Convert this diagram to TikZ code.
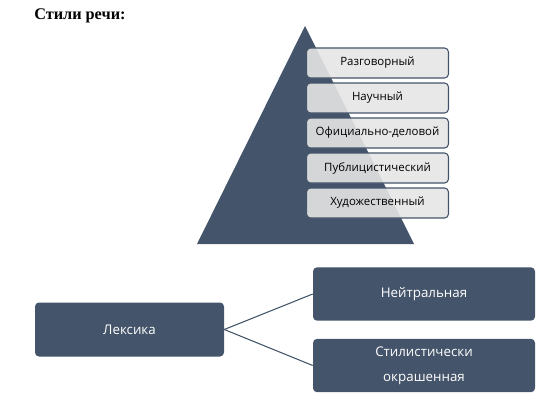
\documentclass[tikz,border=0pt]{standalone}
\usepackage{fontspec}
\setmainfont{Liberation Serif}
\newfontfamily\boxfont{Open Sans}
\definecolor{slate}{HTML}{44546A}
\definecolor{lightbox}{HTML}{E5E5E5}
\begin{document}
\begin{tikzpicture}[x=0.75pt,y=-0.75pt,
  layer/.style={draw=slate, line width=0.8pt, fill=lightbox, fill opacity=0.9, text opacity=1,
    rounded corners=3pt, minimum width=106.5pt, minimum height=22.5pt, inner sep=0pt,
    font=\boxfont\fontsize{8.6pt}{10pt}\selectfont, text=black},
  darkbox/.style={fill=slate, draw=none, rounded corners=3pt, inner sep=0pt,
    font=\boxfont\fontsize{10pt}{18.5pt}\selectfont, text=white, align=center},
  link/.style={draw=slate, line width=0.8pt}]
\useasboundingbox (0,0) rectangle (548,403);
\node[font=\bfseries\fontsize{12.2pt}{14pt}\selectfont, anchor=base west, inner sep=0pt] (title) at (34,20) {Стили речи:};
\fill[slate] (305,26) -- (414,244) -- (197,244) -- cycle;
\node[layer] (l1) at (377.5,63) {Разговорный};
\node[layer] (l2) at (377.5,98) {Научный};
\node[layer] (l3) at (377.5,133) {Официально-деловой};
\node[layer] (l4) at (377.5,168) {Публицистический};
\node[layer] (l5) at (377.5,203) {Художественный};
\node[darkbox, minimum width=141.75pt, minimum height=40.5pt] (lex) at (129.5,329.5) {Лексика};
\node[darkbox, minimum width=166.5pt, minimum height=40pt] (neu) at (424,294) {Нейтральная};
\node[darkbox, minimum width=166.5pt, minimum height=40pt] (sty) at (424,365.5) {Стилистически\\окрашенная};
\draw[link] (lex.east) -- (neu.west);
\draw[link] (lex.east) -- (sty.west);
\end{tikzpicture}
\end{document}
